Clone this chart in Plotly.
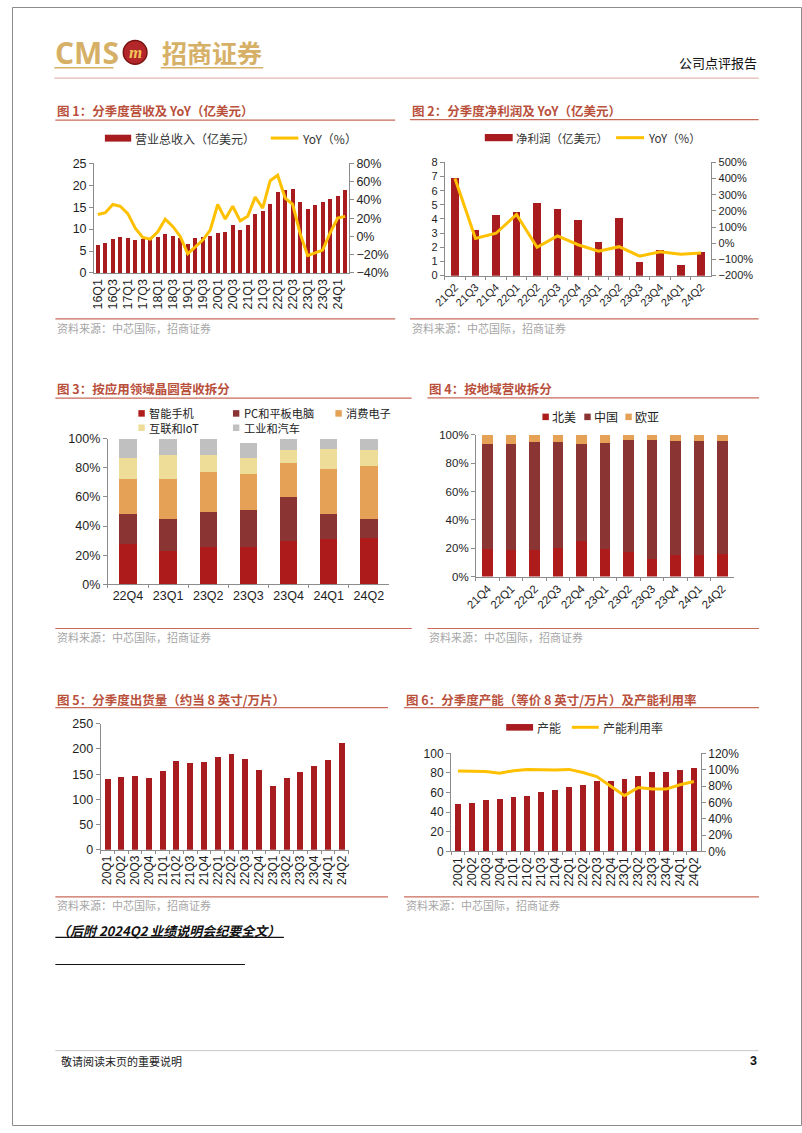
import plotly.graph_objects as go

W, H = 802, 1133
def X(px): return px / W
def Y(py): return 1 - py / H

CJK = "Noto Sans CJK SC"
NUM = "Liberation Sans, Arial"
RED = "#A81C20"
YEL = "#FFC000"
TITLE_C = "#B9503C"
LINE_C = "#C86A58"
SRC_C = "#A6A6A6"

# ---------------- data ----------------
rev_cats = ['16Q1','16Q2','16Q3','16Q4','17Q1','17Q2','17Q3','17Q4','18Q1','18Q2','18Q3','18Q4',
            '19Q1','19Q2','19Q3','19Q4','20Q1','20Q2','20Q3','20Q4','21Q1','21Q2','21Q3','21Q4',
            '22Q1','22Q2','22Q3','22Q4','23Q1','23Q2','23Q3','23Q4','24Q1','24Q2']
rev_vals = [6.35, 6.90, 7.75, 8.15, 7.93, 7.51, 7.70, 7.87, 8.31, 8.91, 8.51, 7.88,
            6.69, 7.91, 8.16, 8.39, 9.05, 9.38, 10.83, 9.81, 11.04, 13.44, 14.15, 15.80,
            18.42, 19.03, 19.07, 16.21, 14.62, 15.60, 16.21, 16.78, 17.50, 19.01]
rev_yoy = [24, 26, 35, 33, 25, 9, -1, -3, 5, 19, 11, 0,
           -19, -11, -4, 7, 35, 19, 33, 17, 22, 43, 31, 61,
           67, 42, 35, 3, -21, -18, -15, 4, 20, 22]
rev_ticks = rev_cats[::2]

np_cats = ['21Q2','21Q3','21Q4','22Q1','22Q2','22Q3','22Q4','23Q1','23Q2','23Q3','23Q4','24Q1','24Q2']
np_vals = [6.9, 3.25, 4.25, 4.5, 5.15, 4.7, 3.9, 2.35, 4.05, 0.95, 1.8, 0.75, 1.65]
np_yoy = [400, 30, 62, 178, -25, 46, -9, -49, -21, -80, -52, -68, -60]

app_cats = ['22Q4','23Q1','23Q2','23Q3','23Q4','24Q1','24Q2']
app_phone = [28, 23, 26, 25.5, 30, 31, 32]
app_pc = [20, 22, 24, 25.7, 30, 17, 13]
app_consumer = [24, 27, 27, 24.4, 23, 31, 36]
app_iot = [15, 17, 12, 11.3, 9, 14, 11]
app_ind = [13, 11, 11, 10.2, 8, 7, 8]
app_names = ['智能手机', 'PC和平板电脑', '消费电子', '互联和IoT', '工业和汽车']
app_colors = ['#AE1B1B', '#8A3434', '#E5A156', '#EEDD99', '#C0C0C0']

geo_cats = ['21Q4','22Q1','22Q2','22Q3','22Q4','23Q1','23Q2','23Q3','23Q4','24Q1','24Q2']
geo_na = [19.3, 18.6, 18.6, 20.2, 25.1, 19.3, 17.4, 12.3, 15.3, 14.9, 15.6]
geo_cn = [74.2, 75.1, 76.5, 74.9, 68.6, 75.3, 79.1, 84.2, 80.5, 80.9, 80.2]
geo_eu = [6.5, 6.3, 4.9, 4.9, 6.3, 5.4, 3.5, 3.5, 4.2, 4.2, 4.2]
geo_names = ['北美', '中国', '欧亚']
geo_colors = ['#AE1B1B', '#8A3434', '#E5A156']

ship_cats = ['20Q1','20Q2','20Q3','20Q4','21Q1','21Q2','21Q3','21Q4','22Q1','22Q2','22Q3','22Q4',
             '23Q1','23Q2','23Q3','23Q4','24Q1','24Q2']
ship_vals = [141, 144, 146, 142, 157, 176, 173, 174, 185, 190, 180, 159, 126, 142, 154, 167, 179, 211]

cap_cats = ship_cats
cap_vals = [48.3, 49, 52, 53, 55, 57, 60.4, 63, 65.8, 68.1, 71.5, 72.1, 74.2, 76.5, 80.5, 81.2, 82.6, 84.9]
util_vals = [98.5, 98.5, 97.7, 95.7, 98.8, 100.4, 100, 99.7, 100.4, 96.5, 91.6, 79.5, 68.3, 78.3, 76.3, 76.3, 81.6, 85.6]

# ---------------- traces ----------------
fig = go.Figure()
fig.add_trace(go.Bar(x=rev_cats, y=rev_vals, marker_color=RED, width=0.55, xaxis='x', yaxis='y'))
fig.add_trace(go.Scatter(x=rev_cats, y=rev_yoy, mode='lines', line=dict(color=YEL, width=3),
                         xaxis='x', yaxis='y2'))
fig.add_trace(go.Bar(x=np_cats, y=np_vals, marker_color=RED, width=0.38, xaxis='x2', yaxis='y3'))
fig.add_trace(go.Scatter(x=np_cats, y=np_yoy, mode='lines', line=dict(color=YEL, width=3),
                         xaxis='x2', yaxis='y4'))
for vals, nm, col in zip([app_phone, app_pc, app_consumer, app_iot, app_ind], app_names, app_colors):
    fig.add_trace(go.Bar(x=app_cats, y=vals, name=nm, marker_color=col, width=0.43,
                         xaxis='x3', yaxis='y5'))
for vals, nm, col in zip([geo_na, geo_cn, geo_eu], geo_names, geo_colors):
    fig.add_trace(go.Bar(x=geo_cats, y=vals, name=nm, marker_color=col, width=0.45,
                         xaxis='x4', yaxis='y6'))
fig.add_trace(go.Bar(x=ship_cats, y=ship_vals, marker_color=RED, width=0.43, xaxis='x5', yaxis='y7'))
fig.add_trace(go.Bar(x=cap_cats, y=cap_vals, marker_color=RED, width=0.42, xaxis='x6', yaxis='y8'))
fig.add_trace(go.Scatter(x=cap_cats, y=util_vals, mode='lines', line=dict(color=YEL, width=3),
                         xaxis='x6', yaxis='y9'))

fig.update_traces(showlegend=False, marker_line_width=0, selector=dict(type='bar'))
fig.update_traces(showlegend=False, selector=dict(type='scatter'))

# ---------------- axes ----------------
def yax(domain, rng, dtick, size=12, suffix='', side='left', overlaying=None, anchor=None):
    d = dict(domain=[Y(domain[1]), Y(domain[0])], range=rng, dtick=dtick, tick0=rng[0],
             showline=True, linecolor='#8C8C8C', linewidth=1, ticks='outside', ticklen=4,
             tickcolor='#8C8C8C', showgrid=False, zeroline=False, ticksuffix=suffix,
             tickfont=dict(family=NUM, size=size, color='#1E1E1E'), side=side, fixedrange=True)
    if overlaying:
        d['overlaying'] = overlaying
    if anchor:
        d['anchor'] = anchor
    return d

def xax(domain, anchor, angle=0, size=12, tickvals=None, showticks=True):
    d = dict(domain=[X(domain[0]), X(domain[1])], anchor=anchor, type='category',
             showline=True, linecolor='#8C8C8C', linewidth=1, ticks='outside', ticklen=3,
             tickcolor='#8C8C8C', tickson='boundaries', showgrid=False, zeroline=False,
             tickangle=angle, tickfont=dict(family=NUM, size=size, color='#1E1E1E'), fixedrange=True)
    if tickvals is not None:
        d['tickmode'] = 'array'
        d['tickvals'] = tickvals
        d['ticktext'] = tickvals
    if not showticks:
        d['ticks'] = ''
    return d

layout_axes = dict(
    xaxis=xax((83.3, 342), 'y', angle=-90, size=12.5, tickvals=rev_ticks, showticks=False),
    yaxis=yax((158.3, 269.3), [0, 25], 5, size=12.5, anchor='x'),
    yaxis2=yax((158.3, 269.3), [-40, 80], 20, size=12.5, suffix='%', side='right', overlaying='y', anchor='x'),

    xaxis2=xax((439.3, 710), 'y3', angle=-45, size=11, tickvals=np_cats),
    yaxis3=yax((157.3, 272), [0, 8], 1, size=11, anchor='x2'),
    yaxis4=yax((157.3, 272), [-200, 500], 100, size=11, suffix='%', side='right', overlaying='y3', anchor='x2'),

    xaxis3=xax((97.3, 382.7), 'y5', angle=0, size=12.5, tickvals=app_cats),
    yaxis5=yax((437, 584.7), [0, 100], 20, size=12.5, suffix='%', anchor='x3'),

    xaxis4=xax((471, 733), 'y6', angle=-45, size=11.5, tickvals=geo_cats),
    yaxis6=yax((433.3, 576.7), [0, 100], 20, size=11.5, suffix='%', anchor='x4'),

    xaxis5=xax((90, 341.7), 'y7', angle=-90, size=12, tickvals=ship_cats),
    yaxis7=yax((725.7, 853.3), [0, 250], 50, size=12.5, anchor='x5'),

    xaxis6=xax((445.7, 699.3), 'y8', angle=-90, size=12, tickvals=cap_cats),
    yaxis8=yax((755.7, 855), [0, 100], 20, size=12, anchor='x6'),
    yaxis9=yax((755.7, 855), [0, 120], 20, size=12, suffix='%', side='right', overlaying='y8', anchor='x6'),
)

# ---------------- decorations ----------------
shapes = []
annotations = []

def hline(x0, x1, y, color, width=1):
    shapes.append(dict(type='line', xref='paper', yref='paper', x0=X(x0), x1=X(x1), y0=Y(y), y1=Y(y),
                       line=dict(color=color, width=width)))

def rect(x0, x1, y0, y1, color):
    shapes.append(dict(type='rect', xref='paper', yref='paper', x0=X(x0), x1=X(x1), y0=Y(y1), y1=Y(y0),
                       fillcolor=color, line=dict(width=0)))

def txt(x, y, s, size=12, color='#000', family=CJK, xanchor='left', yanchor='middle'):
    annotations.append(dict(xref='paper', yref='paper', x=X(x), y=Y(y), text=s, showarrow=False,
                            xanchor=xanchor, yanchor=yanchor, align='left',
                            font=dict(size=size, color=color, family=family)))

# page border
shapes.append(dict(type='rect', xref='paper', yref='paper', x0=X(0.5), x1=X(801.5), y0=Y(1132.5), y1=Y(0.5),
                   line=dict(color='#8C8C8C', width=1), fillcolor='rgba(0,0,0,0)'))

# header
GOLD = "#D6B066"
txt(42, 46, '<b>CMS</b>', size=30, color=GOLD, family="Open Sans, Liberation Sans")
shapes.append(dict(type='circle', xref='paper', yref='paper', x0=X(113), x1=X(137), y0=Y(58), y1=Y(34),
                   fillcolor='#B3262A', line=dict(color='#7A1414', width=1.5)))
txt(125, 46, '<b><i>m</i></b>', size=17, color='#F2C45A', family="Liberation Serif", xanchor='center')
txt(150, 46, '<b>招商证券</b>', size=25, color=GOLD)
hline(43, 103, 61.5, GOLD, 1.5)
hline(151, 255, 61.5, GOLD, 1.5)
hline(43, 758, 72, "#D9A79E", 1)
txt(758, 56, '公司点评报告', size=13, color='#111', xanchor='right')

# titles / lines / sources
def block(x0, x1, ty, tline, sline, sy, title):
    txt(x0, ty, '<b>' + title + '</b>', size=12.5, color=TITLE_C)
    hline(x0, x1, tline, LINE_C, 1.2)
    hline(x0, x1, sline, LINE_C, 1.2)
    txt(x0, sy, '资料来源：中芯国际，招商证券', size=11, color=SRC_C)

block(44, 389, 105, 114.5, 315.7, 325, '图 1：分季度营收及 YoY（亿美元）')
block(404, 758, 105, 114, 315.7, 325, '图 2：分季度净利润及 YoY（亿美元）')
block(44, 405.7, 386, 396, 629.3, 638, '图 3：按应用领域晶圆营收拆分')
block(421.7, 758.3, 386, 395.7, 629.3, 638, '图 4：按地域营收拆分')
block(44, 381.7, 700.7, 709.3, 901, 909.5, '图 5：分季度出货量（约当 8 英寸/万片）')
block(398, 758.3, 700.7, 709.3, 901, 909.5, '图 6：分季度产能（等价 8 英寸/万片）及产能利用率')

# legends chart 1
rect(94.3, 121, 129.3, 136.3, RED)
txt(123.3, 132.7, '营业总收入（亿美元）', size=12, color='#333')
hline(262.7, 290.7, 132.7, YEL, 3)
txt(292.7, 132.7, 'YoY（%）', size=12, color='#333')
# legend chart 2
rect(480, 508.3, 128.6, 135.9, RED)
txt(509.3, 132.3, '净利润（亿美元）', size=11.5, color='#333')
hline(613.3, 641.7, 132.3, YEL, 3)
txt(643.3, 132.3, 'YoY（%）', size=11.5, color='#333')
# legend chart 3 (two rows; columns written as two-line texts)
leg3 = [(128.3, 411.5), (224.3, 411.5), (328.3, 411.5), (128.3, 426.0), (224.3, 426.0)]
for (lx, ly), col in zip(leg3, app_colors):
    rect(lx, lx + 6.5, ly - 3.3, ly + 3.3, col)
txt(137.5, 418.8, app_names[0] + '<br>' + app_names[3], size=11.2, color='#222')
txt(233.5, 418.8, app_names[1] + '<br>' + app_names[4], size=11.2, color='#222')
txt(337.5, 411.5, app_names[2], size=11.2, color='#222')
# legend chart 4
leg4 = [(538.5, 415), (581, 415), (622.7, 415)]
for (lx, ly), nm, col in zip(leg4, geo_names, geo_colors):
    rect(lx, lx + 6.5, ly - 3.3, ly + 3.3, col)
    txt(lx + 8, ly, nm, size=12, color='#222')
# legend chart 6
rect(501.7, 529, 726, 732.7, RED)
txt(531, 729.3, '产能', size=12, color='#333')
hline(568.3, 595.7, 729.3, YEL, 3)
txt(597.7, 729.3, '产能利用率', size=12, color='#333')

# bottom text
txt(44, 935.5, '<b><i>（后附 2024Q2 业绩说明会纪要全文）</i></b>', size=13, color='#111')
hline(44, 276, 942, '#111', 1.2)
hline(44, 236.5, 969.5, '#111', 1.2)
hline(44, 758, 1056.7, '#C8C8C8', 1)
txt(48, 1067.5, '敬请阅读末页的重要说明', size=11, color='#222')
txt(758, 1067.5, '<b>3</b>', size=12.5, color='#111', family=NUM, xanchor='right')

fig.update_layout(
    width=W, height=H, margin=dict(l=0, r=0, t=0, b=0),
    paper_bgcolor='white', plot_bgcolor='rgba(0,0,0,0)',
    barmode='stack', showlegend=False,
    shapes=shapes, annotations=annotations,
    **layout_axes,
)

post = ("var gd=document.getElementById('{plot_id}');"
        "gd.style.position='fixed';gd.style.left='0px';gd.style.top='0px';"
        "document.body.style.margin='0';document.body.style.padding='0';"
        "document.body.style.overflow='hidden';document.documentElement.style.overflow='hidden';")

fig.write_html("out.html", config={'displayModeBar': False}, post_script=post)
